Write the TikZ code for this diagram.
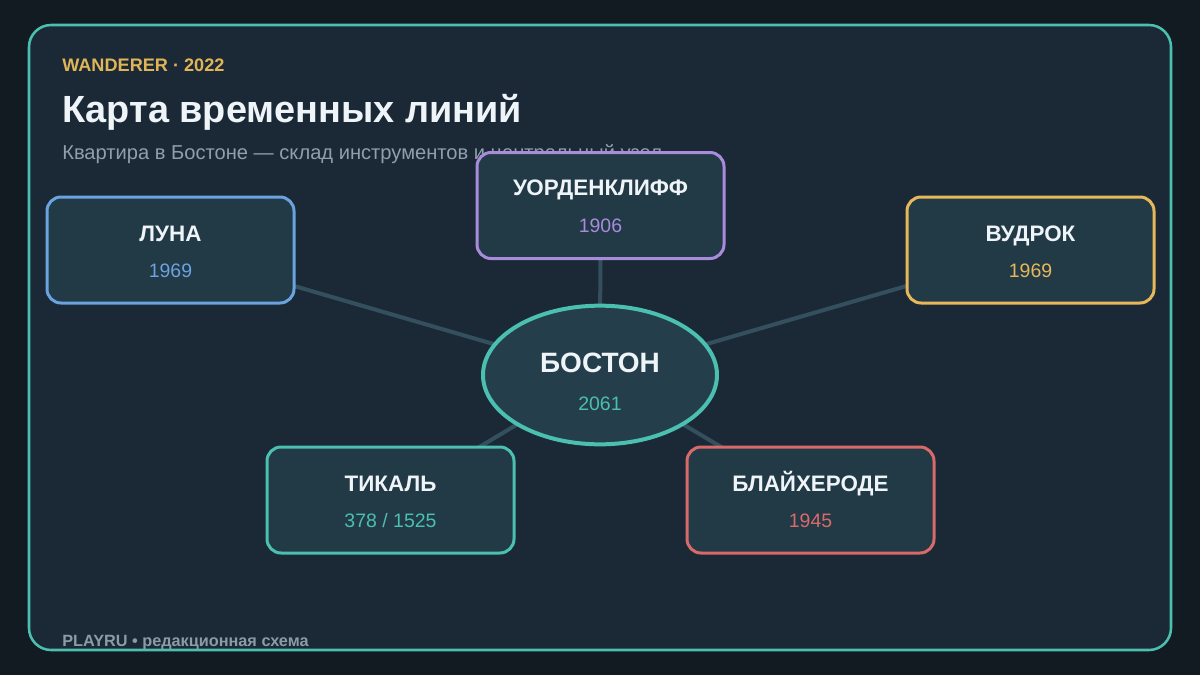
\documentclass[tikz,border=0pt]{standalone}
\usepackage{fontspec}
\setmainfont{Liberation Sans}
\usetikzlibrary{shapes.geometric}
\definecolor{pagebg}{HTML}{121A22}
\definecolor{framefill}{HTML}{1A2935}
\definecolor{teal}{HTML}{4BBFB0}
\definecolor{boxfill}{HTML}{223946}
\definecolor{ellfill}{HTML}{243E4B}
\definecolor{edgecol}{HTML}{34505E}
\definecolor{cblue}{HTML}{6AA3E0}
\definecolor{cpurple}{HTML}{A98BDC}
\definecolor{cyellow}{HTML}{E6B85A}
\definecolor{cred}{HTML}{D96A6A}
\definecolor{headgold}{HTML}{E0B458}
\definecolor{titlecol}{HTML}{EEF4F8}
\definecolor{subcol}{HTML}{8FA0AB}
\definecolor{footcol}{HTML}{8C9BA5}
\pgfdeclarelayer{bgl}
\pgfdeclarelayer{edges}
\pgfsetlayers{bgl,edges,main}
\tikzset{
  box/.style={rectangle, rounded corners=10.5pt, fill=boxfill, line width=2.25pt,
    minimum width=185.25pt, minimum height=79.5pt, inner sep=0pt},
  ttl/.style={anchor=base, text=titlecol, font=\bfseries\fontsize{16.8}{19}\selectfont},
  yr/.style={anchor=base, font=\fontsize{14.6}{17}\selectfont},
  conn/.style={draw=edgecol, line width=3pt},
}
\begin{document}
\begin{tikzpicture}[x=0.75pt,y=-0.75pt]
\useasboundingbox (0,0) rectangle (1200,675);
\begin{pgfonlayer}{bgl}
\fill[pagebg] (0,0) rectangle (1200,675);
\draw[fill=framefill, draw=teal, line width=1.9pt, rounded corners=16.5pt] (29,25) rectangle (1171,650);
\end{pgfonlayer}

\node[anchor=base west, text=headgold, font=\bfseries\fontsize{13.6}{16}\selectfont, inner sep=0pt] (head) at (62,71) {WANDERER · 2022};
\node[anchor=base west, text=titlecol, font=\bfseries\fontsize{28.4}{33}\selectfont, inner sep=0pt] (title) at (62,122) {Карта временных линий};
\node[anchor=base west, text=subcol, font=\fontsize{15.1}{17}\selectfont, inner sep=0pt] (sub) at (62,159.5) {Квартира в Бостоне — склад инструментов и центральный узел};
\node[anchor=base west, text=footcol, font=\bfseries\fontsize{12.2}{14}\selectfont, inner sep=0pt] (foot) at (62,646.5) {PLAYRU • редакционная схема};

\node[ellipse, fill=ellfill, draw=teal, line width=3pt, minimum width=175.5pt, minimum height=104pt, inner sep=0pt] (boston) at (600,375) {};
\node[ttl, font=\bfseries\fontsize{21}{24}\selectfont] (bostonT) at (600,372.5) {БОСТОН};
\node[yr, text=teal] (bostonY) at (600,410) {2061};

\node[box, draw=cblue] (luna) at (170.5,250) {};
\node[ttl] (lunaT) at (170.5,241) {ЛУНА};
\node[yr, text=cblue] (lunaY) at (170.5,277.5) {1969};

\node[box, draw=cpurple] (ward) at (600.5,205.5) {};
\node[ttl] (wardT) at (600.5,195) {УОРДЕНКЛИФФ};
\node[yr, text=cpurple] (wardY) at (600.5,232) {1906};

\node[box, draw=cyellow] (wood) at (1030.5,250) {};
\node[ttl] (woodT) at (1030.5,241) {ВУДРОК};
\node[yr, text=cyellow] (woodY) at (1030.5,277.5) {1969};

\node[box, draw=teal] (tikal) at (390.5,500) {};
\node[ttl] (tikalT) at (390.5,491) {ТИКАЛЬ};
\node[yr, text=teal] (tikalY) at (390.5,527.5) {378 / 1525};

\node[box, draw=cred] (bleich) at (810.5,500) {};
\node[ttl] (bleichT) at (810.5,491) {БЛАЙХЕРОДЕ};
\node[yr, text=cred] (bleichY) at (810.5,527.5) {1945};

\begin{pgfonlayer}{edges}
\draw[conn] (boston.center) -- (luna.center);
\draw[conn] (boston.center) -- (ward.center);
\draw[conn] (boston.center) -- (wood.center);
\draw[conn] (boston.center) -- (tikal.center);
\draw[conn] (boston.center) -- (bleich.center);
\end{pgfonlayer}
\end{tikzpicture}
\end{document}
